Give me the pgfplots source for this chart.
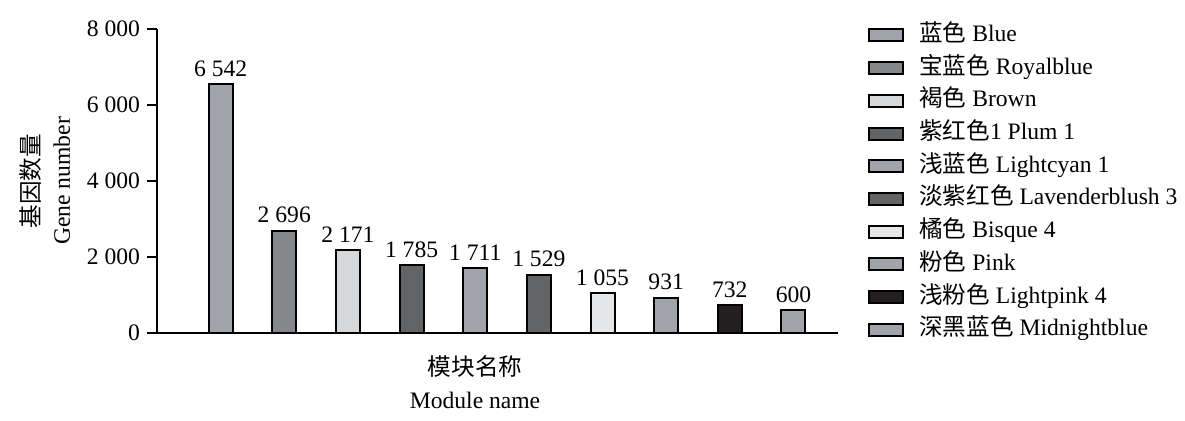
\documentclass[border=0pt]{standalone}
\usepackage{pgfplots}
\pgfplotsset{compat=1.18}
\usepackage{fontspec}
\setmainfont{Liberation Serif}
\newfontfamily\cjkfont{Noto Sans CJK SC}
\newcommand{\cjk}[1]{{\cjkfont #1}}
\definecolor{cA}{HTML}{A0A3AA}
\definecolor{cB}{HTML}{86878B}
\definecolor{cC}{HTML}{D6D7D9}
\definecolor{cD}{HTML}{636466}
\definecolor{cE}{HTML}{E6E7E8}
\definecolor{cF}{HTML}{231F20}
\begin{document}
\begin{tikzpicture}[font=\fontsize{11.8pt}{14pt}\selectfont]
\useasboundingbox (0,0) rectangle (592.5pt,210.5pt);
\begin{axis}[
  at={(78.5pt,44pt)}, anchor=south west,
  scale only axis, width=340.5pt, height=152pt,
  xmin=0, xmax=10.7, ymin=0, ymax=8000,
  axis x line=bottom, axis y line=left,
  axis line style={-, line width=1pt, black},
  xtick=\empty, ytick={0,2000,4000,6000,8000},
  tick align=outside, major tick length=5pt,
  tick style={line width=1pt, black},
  yticklabel style={/pgf/number format/.cd, assume math mode=true, 1000 sep={\ }},
  scaled y ticks=false,
  ybar, bar width=12pt, bar shift=0pt,
  nodes near coords={\pgfmathprintnumber[assume math mode=true,1000 sep={\ }]{\pgfplotspointmeta}},
  every node near coord/.append style={black},
  xlabel={\cjk{模块名称}\\Module name},
  xlabel style={align=center, at={(axis description cs:0.467,0)}, anchor=north, yshift=-8pt, font=\fontsize{11.8pt}{16.5pt}\selectfont},
  ylabel={\cjk{基因数量}\\Gene number},
  ylabel style={align=center, at={(axis description cs:-0.1645,0.5)}, anchor=center, font=\fontsize{11.8pt}{15pt}\selectfont},
  legend style={at={(axis description cs:1.035,1.047)}, anchor=north west, draw=none, fill=none,
    cells={anchor=west}, nodes={text height=8.5pt, text depth=2.5pt, inner ysep=2.675pt},
    column sep=5.5pt},
  legend image code/.code={\draw[#1, line width=1pt] (0pt,-3pt) rectangle (17pt,3pt);},
]
\addplot[fill=cA, draw=black, line width=1pt] coordinates {(1,6542)};
\addlegendentry{\cjk{蓝色} Blue}
\addplot[fill=cB, draw=black, line width=1pt] coordinates {(2,2696)};
\addlegendentry{\cjk{宝蓝色} Royalblue}
\addplot[fill=cC, draw=black, line width=1pt] coordinates {(3,2171)};
\addlegendentry{\cjk{褐色} Brown}
\addplot[fill=cD, draw=black, line width=1pt] coordinates {(4,1785)};
\addlegendentry{\cjk{紫红色}1 Plum 1}
\addplot[fill=cA, draw=black, line width=1pt] coordinates {(5,1711)};
\addlegendentry{\cjk{浅蓝色} Lightcyan 1}
\addplot[fill=cD, draw=black, line width=1pt] coordinates {(6,1529)};
\addlegendentry{\cjk{淡紫红色} Lavenderblush 3}
\addplot[fill=cE, draw=black, line width=1pt] coordinates {(7,1055)};
\addlegendentry{\cjk{橘色} Bisque 4}
\addplot[fill=cA, draw=black, line width=1pt] coordinates {(8,931)};
\addlegendentry{\cjk{粉色} Pink}
\addplot[fill=cF, draw=black, line width=1pt] coordinates {(9,732)};
\addlegendentry{\cjk{浅粉色} Lightpink 4}
\addplot[fill=cA, draw=black, line width=1pt] coordinates {(10,600)};
\addlegendentry{\cjk{深黑蓝色} Midnightblue}
\end{axis}
\end{tikzpicture}
\end{document}
